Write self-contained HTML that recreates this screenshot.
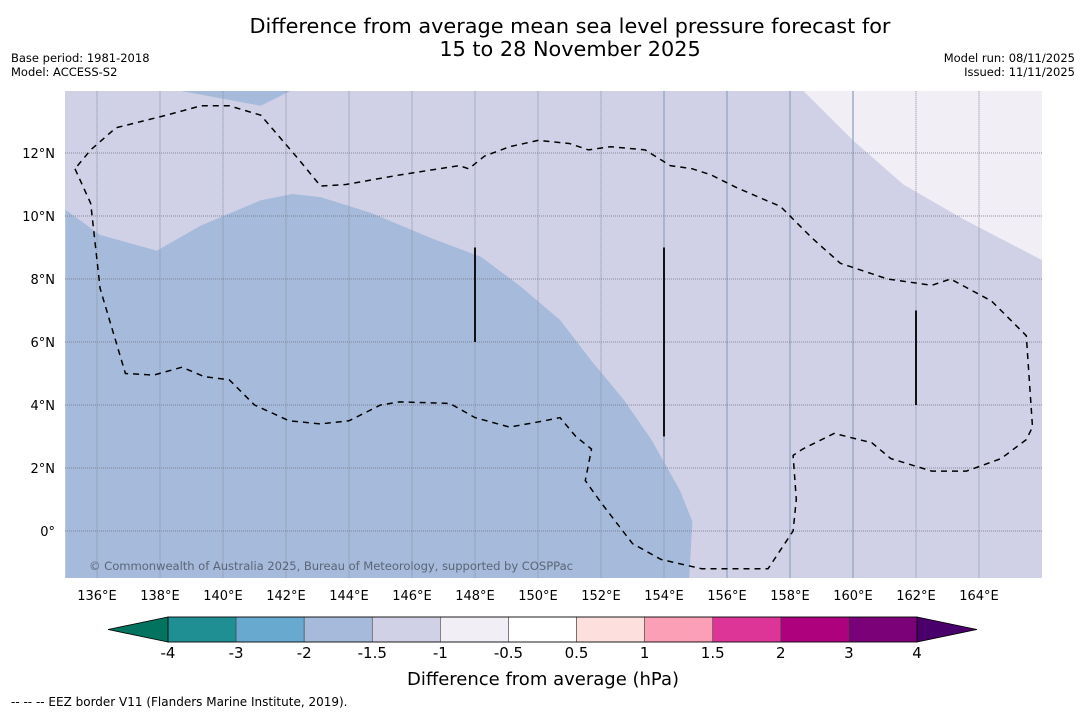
<!DOCTYPE html>
<html><head><meta charset="utf-8">
<style>
html,body{margin:0;padding:0;background:#fff;}
body{width:1085px;height:713px;position:relative;overflow:hidden;font-family:"DejaVu Sans","Liberation Sans",sans-serif;}
.t{position:absolute;color:#000;white-space:nowrap;}
</style></head>
<body>
<div class="t" style="left:0;width:1140px;top:15px;text-align:center;font-size:20.8px;line-height:23px;">Difference from average mean sea level pressure forecast for<br>15 to 28 November 2025</div>
<div class="t" style="left:11px;top:51px;font-size:11.5px;line-height:14px;">Base period: 1981-2018<br>Model: ACCESS-S2</div>
<div class="t" style="right:10px;top:51px;font-size:11.5px;line-height:14px;text-align:right;">Model run: 08/11/2025<br>Issued: 11/11/2025</div>
<svg id="chart" width="1085" height="713" style="position:absolute;left:0;top:0;" xmlns="http://www.w3.org/2000/svg"></svg>
<div class="t" style="left:11px;top:695px;font-size:12px;">--  --  -- EEZ border V11 (Flanders Marine Institute, 2019).</div>
<script>
// Colorbar data
const levels = [-4,-3,-2,-1.5,-1,-0.5,0.5,1,1.5,2,3,4];
const levelColors = ["#1f8f94","#67a9cf","#a6bbdb","#d0d1e6","#f1eef6","#ffffff","#fde0dd","#fa9fb5","#dd3497","#ae017e","#7a0177"];
const lonTicks = [136,138,140,142,144,146,148,150,152,154,156,158,160,162,164];
const latTicks = [0,2,4,6,8,10,12];
// anomaly region boundaries (lon, lat)
const blueRegion = [[135,10.2],[136.1,9.4],[137.9,8.9],[139.3,9.7],[141.2,10.5],[142.2,10.7],[143.1,10.6],[144.7,10.1],[146.6,9.3],[148.2,8.7],[149.4,7.8],[150.7,6.7],[151.7,5.4],[152.7,4.2],[153.6,2.9],[154.5,1.3],[154.9,0.3],[154.8,-1.5],[135,-1.5]];
const blueTop = [[138.5,14],[141.2,13.5],[142.2,14]];
const lightRegion = [[158.4,14],[160,12.4],[161.6,11],[163.5,9.9],[166,8.6],[166,14]];
const eez = [[135.3,11.5],[135.8,10.4],[136,8.6],[136.1,7.7],[136.9,5],[137.8,4.95],[138.7,5.2],[139.4,4.9],[140.2,4.8],[141,4],[142.1,3.5],[143.1,3.4],[144,3.5],[145,4],[145.6,4.1],[147.2,4.05],[148,3.6],[149.1,3.3],[150.2,3.5],[150.7,3.6],[151.2,3],[151.7,2.6],[151.5,1.6],[152,0.9],[153,-0.4],[153.9,-0.9],[155.2,-1.2],[157.3,-1.2],[158.1,0],[158.2,1],[158.1,2.4],[158.4,2.6],[159.4,3.1],[160.6,2.8],[161.2,2.3],[162.5,1.9],[163.6,1.9],[164.7,2.3],[165.5,2.9],[165.7,3.3],[165.5,6.2],[164.4,7.3],[163.1,8],[162.5,7.8],[161.1,8],[159.6,8.5],[158.7,9.3],[157.7,10.3],[156.3,10.9],[155.5,11.3],[154.9,11.5],[154.2,11.6],[153.4,12.1],[152.3,12.2],[151.6,12.1],[151,12.3],[150,12.4],[149.1,12.2],[148.3,11.9],[147.8,11.5],[147.5,11.6],[145.6,11.3],[143.9,11],[143.1,10.95],[142.4,11.8],[141.2,13.2],[140.2,13.5],[139.3,13.5],[138.2,13.2],[137.4,13],[136.6,12.8],[135.8,12.1],[135.3,11.5]];
const blackBars = [[148,6,9],[154,3,9],[162,4,7]];

const svg=document.getElementById('chart');
const NS='http://www.w3.org/2000/svg';
const X0=65,X1=1042,Y0=91,Y1=578;
const x=lon=>65.5+(lon-135)*31.5;
const y=lat=>531-lat*31.5;
function mk(t,a,p){const e=document.createElementNS(NS,t);for(const k in a)e.setAttribute(k,a[k]);(p||svg).appendChild(e);return e;}
const pts=arr=>arr.map(p=>x(p[0]).toFixed(1)+','+y(p[1]).toFixed(1)).join(' ');

const defs=mk('defs',{});
const cp=mk('clipPath',{id:'mapclip'},defs);
mk('rect',{x:X0,y:Y0,width:X1-X0,height:Y1-Y0},cp);
const g=mk('g',{'clip-path':'url(#mapclip)'});
let e;
e=mk('rect',{x:X0,y:Y0,width:X1-X0,height:Y1-Y0,fill:levelColors[3]},g);


e=mk('polygon',{points:pts(blueRegion),fill:levelColors[2]},g);


e=mk('polygon',{points:pts(blueTop),fill:levelColors[2]},g);


e=mk('polygon',{points:pts(lightRegion),fill:levelColors[4]},g);


[154,156,158,160].forEach(l=>{mk('line',{x1:x(l),x2:x(l),y1:Y0,y2:Y1,stroke:'#a6bbdb','stroke-width':1.5},g);});
lonTicks.forEach(l=>{
  e=mk('line',{x1:x(l),x2:x(l),y1:Y0,y2:Y1,stroke:'#8890a0','stroke-width':0.7,'stroke-dasharray':'1.5,0.5'},g);
  
  
});
latTicks.forEach(l=>{
  e=mk('line',{x1:X0,x2:X1,y1:y(l),y2:y(l),stroke:'#6f7380','stroke-width':0.8,'stroke-dasharray':'1,1'},g);
  
  
});
e=mk('polyline',{points:pts(eez),fill:'none',stroke:'#000','stroke-width':1.5,'stroke-dasharray':'6,5'},g);


blackBars.forEach(b=>{
  e=mk('line',{x1:x(b[0]),x2:x(b[0]),y1:y(b[2]),y2:y(b[1]),stroke:'#111','stroke-width':2},g);
  
  
});
e=mk('text',{x:89,y:570,fill:'#5b6577','font-size':11.6,'font-family':'DejaVu Sans, sans-serif',textLength:484},g);
e.textContent='© Commonwealth of Australia 2025, Bureau of Meteorology, supported by COSPPac';



lonTicks.forEach(l=>{
  e=mk('text',{x:x(l),y:600,'text-anchor':'middle','font-size':13,'font-family':'DejaVu Sans, sans-serif'});
  e.textContent=l+'°E';
  
  
});
latTicks.forEach(l=>{
  e=mk('text',{x:55,y:y(l)+5,'text-anchor':'end','font-size':13,'font-family':'DejaVu Sans, sans-serif'});
  e.textContent=l===0?'0°':l+'°N';
  
  
});

// colorbar
const CB0=168,CB1=917,CBT=617,CBB=642;
const bw=(CB1-CB0)/levelColors.length;
e=mk('polygon',{points:`108,629.5 ${CB0},${CBT} ${CB0},${CBB}`,fill:'#02735f',stroke:'#000','stroke-width':0.8});


e=mk('polygon',{points:`977,629.5 ${CB1},${CBT} ${CB1},${CBB}`,fill:'#49006a',stroke:'#000','stroke-width':0.8});


levelColors.forEach((c,i)=>{
  e=mk('rect',{x:CB0+i*bw,y:CBT,width:bw,height:CBB-CBT,fill:c,stroke:'#444','stroke-width':0.6});
  
  
});
mk('rect',{x:CB0,y:CBT,width:CB1-CB0,height:CBB-CBT,fill:'none',stroke:'#000','stroke-width':0.8});
levels.forEach((v,i)=>{
  e=mk('text',{x:CB0+i*bw,y:658,'text-anchor':'middle','font-size':15,'font-family':'DejaVu Sans, sans-serif'});
  e.textContent=String(v);
  
  
});
e=mk('text',{x:543,y:685,'text-anchor':'middle','font-size':18,'font-family':'DejaVu Sans, sans-serif'});
e.textContent='Difference from average (hPa)';


</script>
</body></html>
